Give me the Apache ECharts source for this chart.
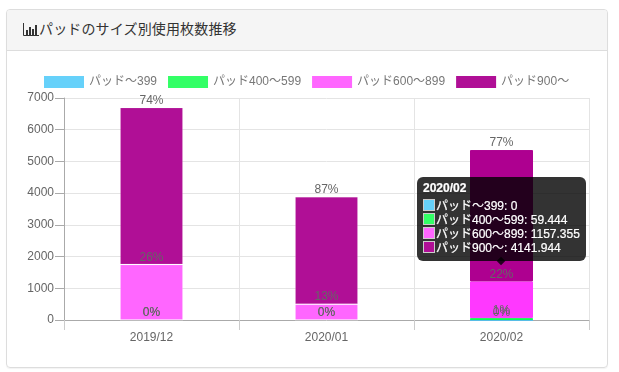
<!DOCTYPE html>
<html>
<head>
<meta charset="utf-8">
<style>
html, body { margin: 0; padding: 0; background: #fff; }
body { width: 619px; height: 372px; position: relative; overflow: hidden; font-family: "Liberation Sans", "Noto Sans CJK JP", sans-serif; }
.panel { position: absolute; left: 6px; top: 9px; width: 600px; height: 357px; border: 1px solid #ddd; border-radius: 4px; box-shadow: 0 1px 1px rgba(0,0,0,.05); }
.panel-heading { height: 40px; line-height: 39px; background: #f5f5f5; border-bottom: 1px solid #ddd; border-radius: 3px 3px 0 0; padding-left: 16px; font-size: 14px; color: #333; letter-spacing: 0.15px; }
.panel-heading svg { vertical-align: -2px; }
#chart { position: absolute; left: 7px; top: 51px; width: 600px; height: 315px; }
.mark { display: inline-block; width: 10px; height: 10px; border: 1px solid #ccc; vertical-align: -1px; margin-right: 1px; }
</style>
</head>
<body>
<div class="panel">
  <div class="panel-heading">
    <svg width="16" height="13" viewBox="0 0 16 13"><path d="M0.5 0V12.5H16" fill="none" stroke="#333"/><path d="M3 7h2v5H3zM6 4h2v8H6zM9 6h2v6H9zM12 2h2v10h-2z" fill="#333"/></svg>パッドのサイズ別使用枚数推移
  </div>
</div>
<div id="chart"></div>
<script src="https://cdn.jsdelivr.net/npm/echarts@6/dist/echarts.min.js"></script>
<script>
const months = ['2019/12', '2020/01', '2020/02']
const seriesNames = ['パッド～399', 'パッド400～599', 'パッド600～899', 'パッド900～']
const pad399 = [0, 0, 0]
const pad400 = [0, 0, 59.444]
const pad600 = [1750, 500, 1157.355]
const pad900 = [4950, 3390, 4141.944]
const colors = ['#66d1fa', '#33ff66', '#ff66ff', '#b00f96']
const hoverColors = ['#3cc4f9', '#0aff4c', '#ff38ff', '#ae0090']
const allValues = [pad399, pad400, pad600, pad900]
const hoverMonth = 2

function monthTotal(i) {
  return allValues.reduce((sum, arr) => sum + arr[i], 0)
}

const chart = echarts.init(document.getElementById('chart'))

chart.setOption({
  animation: false,
  color: colors,
  textStyle: { fontFamily: '"Liberation Sans", "Noto Sans CJK JP", sans-serif' },
  legend: {
    top: 20,
    left: 32,
    itemWidth: 40,
    itemHeight: 12,
    itemGap: 11,
    icon: 'rect',
    itemStyle: { borderWidth: 0 },
    textStyle: { color: '#777', fontSize: 12 },
    data: seriesNames
  },
  grid: { left: 57, right: 18, top: 47, bottom: 46 },
  tooltip: {
    trigger: 'item',
    position: 'top',
    backgroundColor: 'rgba(0,0,0,0.8)',
    borderWidth: 0,
    padding: [1, 6, 6, 6],
    // 棒の上端より少し上に出す
    extraCssText: 'border-radius:6px;box-shadow:none;margin-top:-12px;-webkit-text-stroke:0.2px #fff;',
    textStyle: { color: '#fff', fontSize: 12 },
    formatter: function(p) {
      let html = '<div style="font-weight:bold;line-height:21px">' + p.name + '</div>'
      seriesNames.forEach(function(name, s) {
        html += '<div style="line-height:14px"><span class="mark" style="background:' + colors[s] + '"></span>' + name + ': ' + allValues[s][p.dataIndex] + '</div>'
      })
      return html
    }
  },
  xAxis: {
    type: 'category',
    data: months,
    axisLine: { lineStyle: { color: '#aaa' } },
    axisTick: { show: true, length: 10, alignWithLabel: false, lineStyle: { color: '#ccc' } },
    axisLabel: { color: '#666', fontSize: 12, margin: 12 },
    splitLine: { show: true, lineStyle: { color: '#e4e4e4' } }
  },
  yAxis: {
    type: 'value',
    min: 0,
    max: 7000,
    interval: 1000,
    axisLine: { show: true, lineStyle: { color: '#aaa' } },
    axisTick: { show: true, length: 9, lineStyle: { color: '#aaa' } },
    axisLabel: { color: '#666', fontSize: 12, margin: 10, formatter: function(v) { return String(v) } },
    splitLine: { lineStyle: { color: '#e4e4e4' } }
  },
  series: seriesNames.map(function(name, s) {
    return {
      name: name,
      type: 'bar',
      stack: 'pad',
      barWidth: '36%',
      data: allValues[s],
      itemStyle: { borderWidth: 1, borderColor: 'rgba(255,255,255,0.12)' },
      emphasis: { itemStyle: { color: hoverColors[s], borderColor: hoverColors[s] } },
      label: {
        show: true,
        position: 'top',
        distance: 1,
        color: '#666',
        fontSize: 12,
        formatter: function(p) {
          return Math.round(p.value / monthTotal(p.dataIndex) * 100) + '%'
        }
      }
    }
  })
})

chart.dispatchAction({ type: 'highlight', seriesIndex: [0, 1, 2, 3], dataIndex: hoverMonth })
chart.dispatchAction({ type: 'showTip', seriesIndex: 2, dataIndex: hoverMonth })
</script>
</body>
</html>
